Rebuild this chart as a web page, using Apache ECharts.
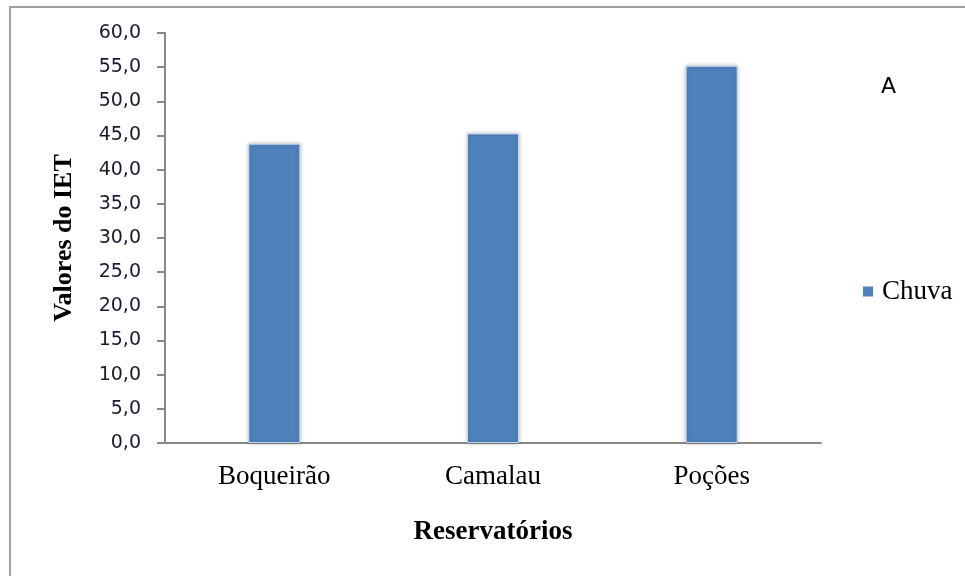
<!DOCTYPE html>
<html>
<head>
<meta charset="utf-8">
<script src="https://cdn.jsdelivr.net/npm/echarts@6/dist/echarts.min.js"></script>
<style>html,body{margin:0;padding:0;background:#fff}#c{width:965px;height:576px}</style>
</head>
<body>
<div id="c"></div>
<script>
const categories = ['Boqueirão', 'Camalau', 'Poções'];
const chuva = [43.8, 45.3, 55.2];
const yTicks = { min: 0, max: 60, interval: 5 };
const seriesName = 'Chuva';
const panelLabel = 'A';
const yName = 'Valores do IET';
const xName = 'Reservatórios';

const chart = echarts.init(document.getElementById('c'));
chart.setOption({
  animation: false,
  backgroundColor: '#fff',
  graphic: [
    { type: 'rect', shape: { x: 10, y: 7, width: 1000, height: 600 }, style: { fill: 'none', stroke: '#a0a0a0', lineWidth: 2 } },
    { type: 'text', left: 881, top: 76, style: { text: panelLabel, font: '22px "DejaVu Sans"', fill: '#000' } }
  ],
  legend: {
    data: [seriesName],
    left: 858, top: 273,
    icon: 'rect', itemWidth: 10, itemHeight: 10, itemGap: 8,
    itemStyle: { borderWidth: 0, shadowBlur: 0 },
    textStyle: { fontFamily: '"Liberation Serif", serif', fontSize: 27, color: '#000', padding: [0, 0, 0, 4] }
  },
  grid: { left: 165, right: 144, top: 33, bottom: 133 },
  xAxis: {
    type: 'category', data: categories,
    name: xName, nameLocation: 'middle', nameGap: 76,
    nameTextStyle: { fontFamily: '"Liberation Serif", serif', fontSize: 27, fontWeight: 'bold', color: '#000' },
    axisLine: { lineStyle: { color: '#888', width: 2 } },
    axisTick: { show: false },
    axisLabel: { fontFamily: '"Liberation Serif", serif', fontSize: 27, color: '#000', margin: 20 }
  },
  yAxis: {
    type: 'value', min: yTicks.min, max: yTicks.max, interval: yTicks.interval,
    name: yName, nameLocation: 'middle', nameGap: 88, nameRotate: 90,
    nameTextStyle: { fontFamily: '"Liberation Serif", serif', fontSize: 26, fontWeight: 'bold', color: '#000' },
    axisLine: { show: true, lineStyle: { color: '#888', width: 2 } },
    axisTick: { show: true, length: 8, lineStyle: { color: '#888', width: 2 } },
    splitLine: { show: false },
    axisLabel: { fontFamily: '"DejaVu Sans", sans-serif', fontSize: 19, color: '#1a1a2e', margin: 24,
      formatter: v => v.toFixed(1).replace('.', ',') }
  },
  series: [{
    name: seriesName, type: 'bar', data: chuva, barWidth: 52,
    itemStyle: { color: '#4F81BD', borderColor: '#c6d6ea', borderWidth: 1, shadowBlur: 4, shadowColor: 'rgba(0,0,0,0.25)' }
  }]
});
</script>
</body>
</html>
